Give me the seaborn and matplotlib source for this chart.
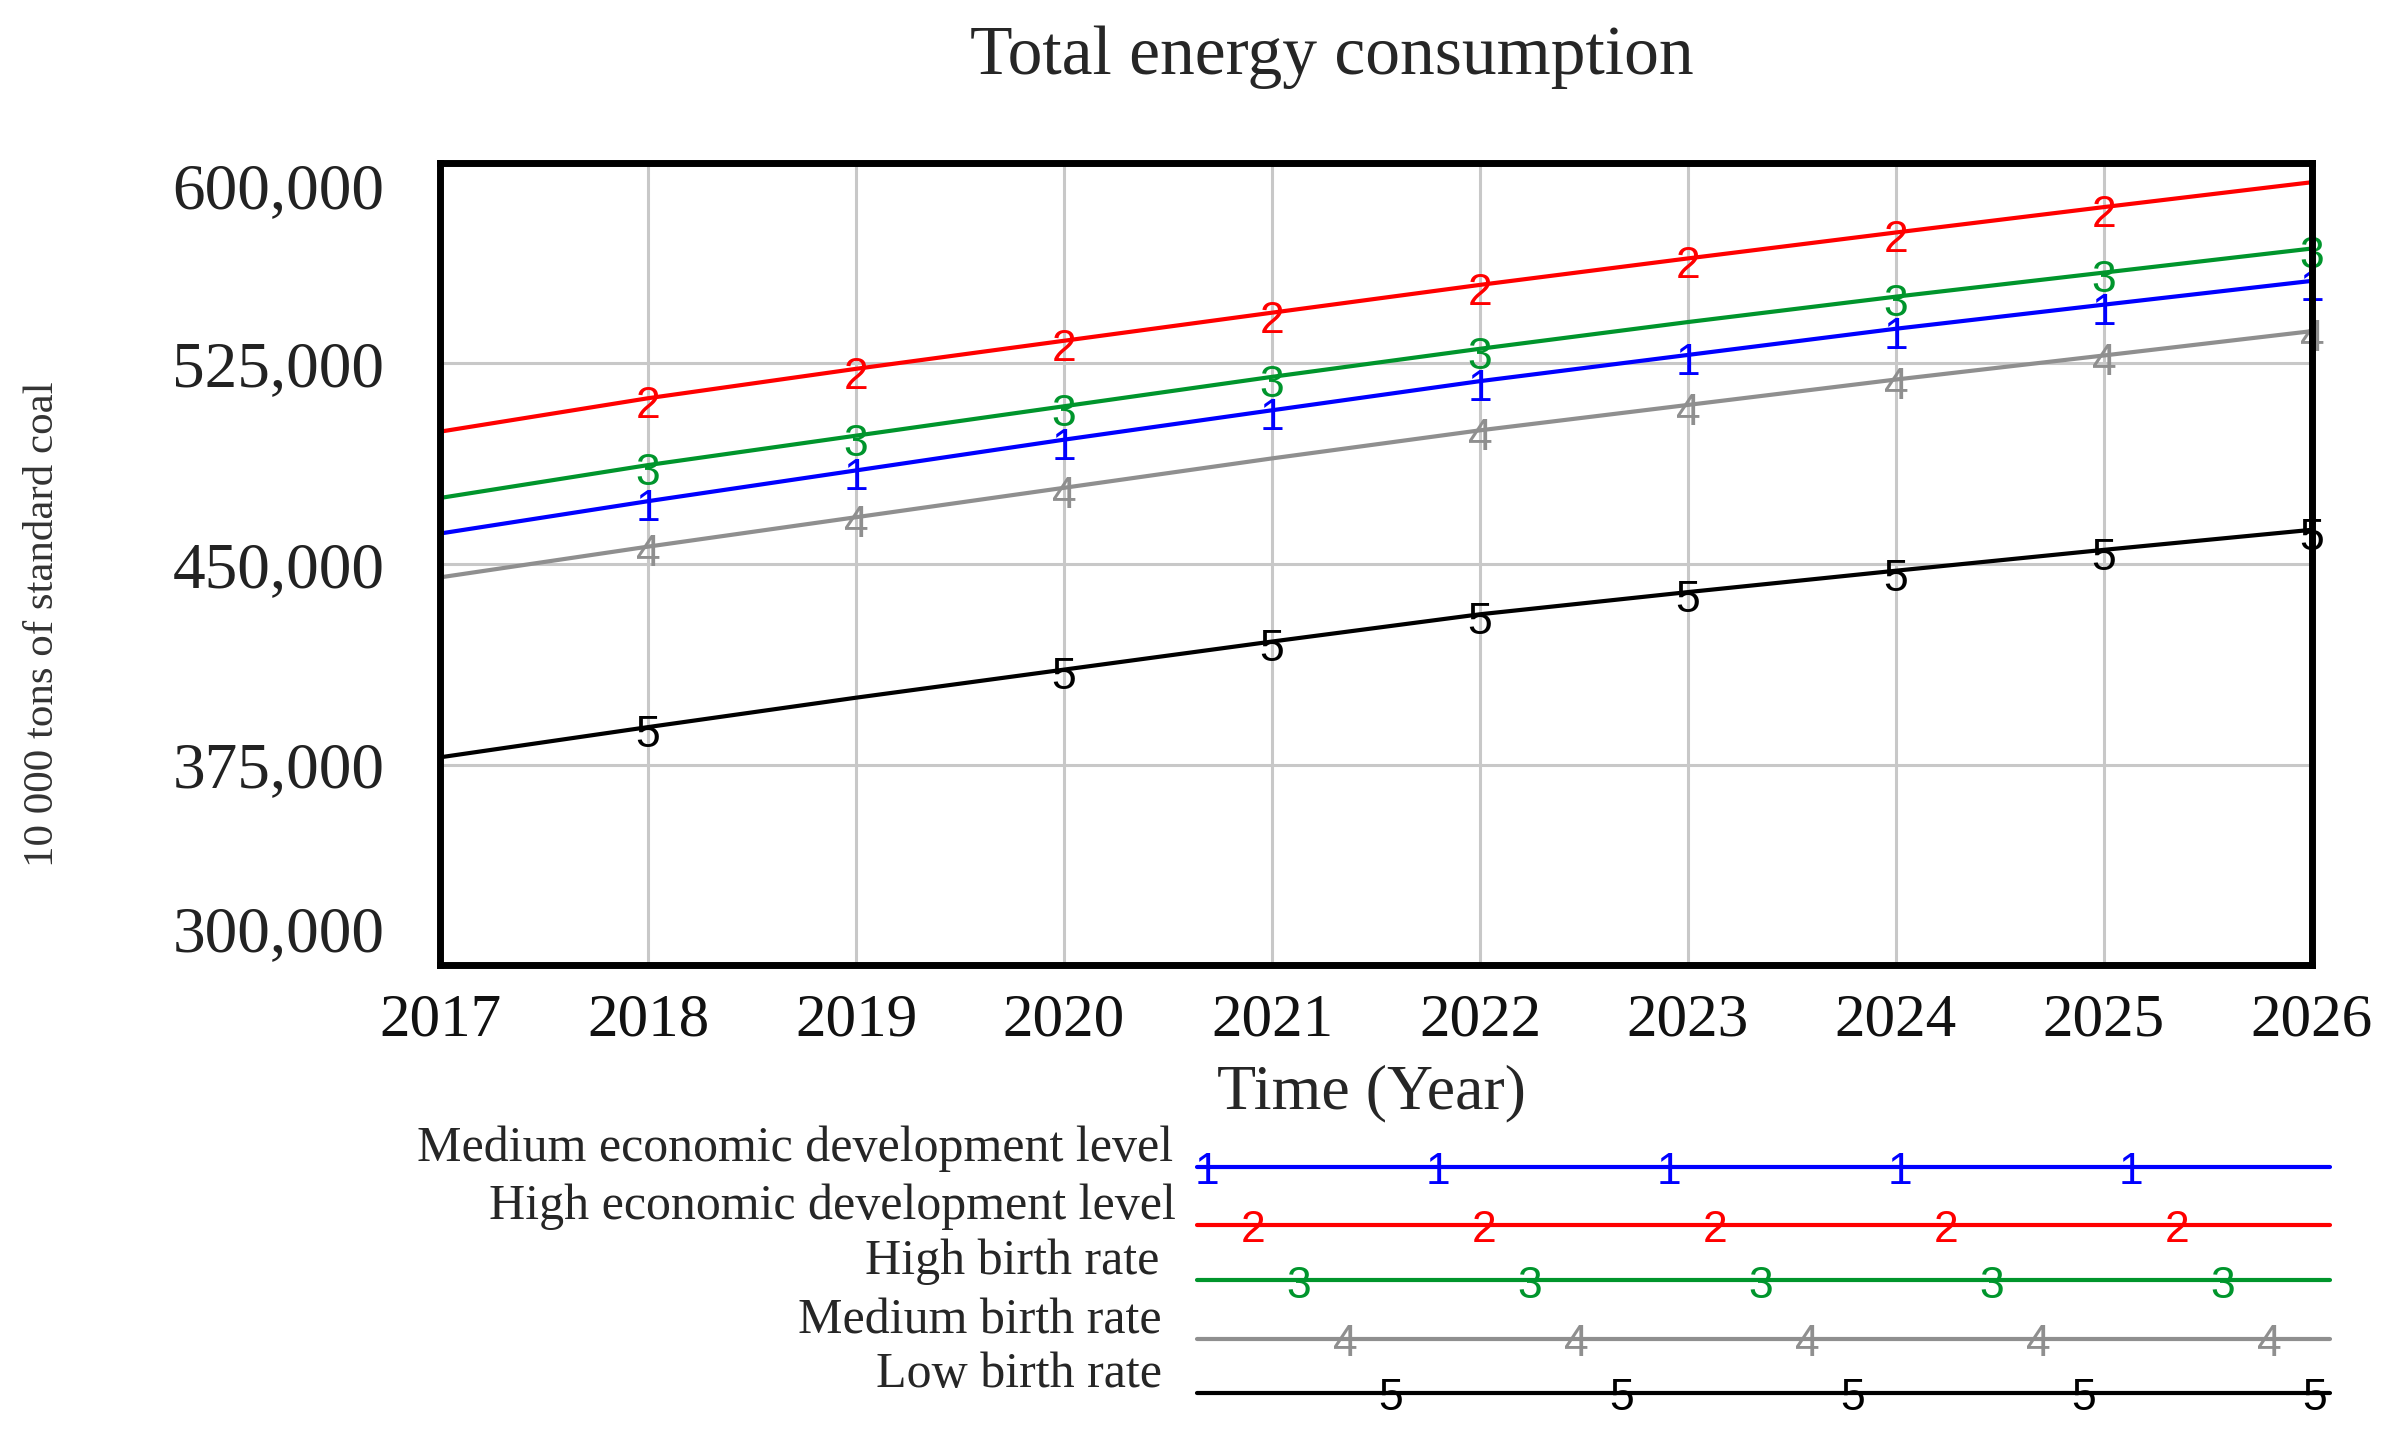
import numpy as np
import pandas as pd
import matplotlib
matplotlib.use("Agg")
import matplotlib.pyplot as plt
import seaborn as sns

# 年份
years = [2017, 2018, 2019, 2020, 2021, 2022, 2023, 2024, 2025, 2026]

# 各情景的能源消费总量（万吨标准煤）
medium_econ = [461400, 473500, 485000, 496500, 507500, 518400, 528200, 538000, 547000, 555900]
high_econ = [499500, 512000, 523000, 533500, 544000, 554400, 564300, 574000, 583500, 592800]
high_birth = [474700, 487000, 498000, 509000, 520000, 530500, 540500, 550000, 559000, 568000]
medium_birth = [445000, 456500, 467500, 478500, 489500, 500000, 509500, 519000, 528000, 537100]
low_birth = [377700, 389000, 400000, 410500, 421000, 431200, 439500, 447500, 455300, 462800]

scenario_names = [
    "Medium economic development level",
    "High economic development level",
    "High birth rate",
    "Medium birth rate",
    "Low birth rate",
]
scenario_ids = ["1", "2", "3", "4", "5"]
colors = ["#0000ff", "#ff0000", "#00952c", "#8f8f8f", "#000000"]

# 线上编号标记出现的年份
mark_years = [
    [2018, 2019, 2020, 2021, 2022, 2023, 2024, 2025, 2026],
    [2018, 2019, 2020, 2021, 2022, 2023, 2024, 2025],
    [2018, 2019, 2020, 2021, 2022, 2024, 2025, 2026],
    [2018, 2019, 2020, 2022, 2023, 2024, 2025, 2026],
    [2018, 2020, 2021, 2022, 2023, 2024, 2025, 2026],
]

y_ticks = [300000, 375000, 450000, 525000, 600000]

sns.set_style("whitegrid")
plt.rcParams['font.family'] = ['Liberation Serif', 'DejaVu Serif']

series = [medium_econ, high_econ, high_birth, medium_birth, low_birth]
df = pd.DataFrame({
    "year": years * len(series),
    "value": sum(series, []),
    "scenario": [n for n in scenario_names for _ in years],
})
palette = dict(zip(scenario_names, colors))

fig = plt.figure(figsize=(23.98, 14.46), dpi=100)
ax = fig.add_axes([0.1835, 0.3326, 0.7806, 0.5547])

sns.lineplot(data=df, x="year", y="value", hue="scenario", palette=palette,
             linewidth=3, legend=False, ax=ax, zorder=3)

# 编号标记
for vals, sid, col, marks in zip(series, scenario_ids, colors, mark_years):
    for yr in marks:
        v = vals[years.index(yr)]
        ax.annotate(sid, (yr, v), xytext=(0, -6), textcoords="offset points",
                    ha="center", va="center", fontsize=32, color=col,
                    family="Liberation Sans", annotation_clip=False, zorder=4)

ax.set_xlim(years[0], years[-1])
ax.set_ylim(y_ticks[0], y_ticks[-1])
ax.set_xticks(years)
ax.set_xticklabels([str(y) for y in years], fontsize=44, color="#111111")
ax.set_yticks(y_ticks)
ax.set_yticklabels([f"{v:,}" for v in y_ticks], fontsize=47, color="#222222")
ax.tick_params(axis="x", length=0, pad=20)
ax.tick_params(axis="y", length=0, pad=40)
labels = ax.get_yticklabels()
labels[0].set_va("bottom")
labels[-1].set_va("top")
ax.set_xlabel("")
ax.set_ylabel("")
ax.grid(True, color="#c8c8c8", linewidth=2.2)
for s in ax.spines.values():
    s.set_visible(True)
    s.set_color("black")
    s.set_linewidth(5)
    s.set_zorder(5)

fig.text(0.5555, 0.9606, "Total energy consumption", ha="center", va="center", fontsize=50)
fig.text(0.018, 0.5685, "10 000 tons of standard coal", rotation=90,
         ha="center", va="center", fontsize=31, color="#333333")
fig.text(0.572, 0.244, "Time (Year)", ha="center", va="center", fontsize=46)

# 底部图例
leg = fig.add_axes([0, 0, 1, 1])
leg.set_xlim(0, 2398)
leg.set_ylim(1446, 0)
leg.axis("off")
leg.patch.set_alpha(0)
row_y = [1167, 1225, 1280, 1339, 1393]
label_x = [1173, 1176, 1159, 1162, 1162]
for i, (name, sid, col) in enumerate(zip(scenario_names, scenario_ids, colors)):
    leg.plot([1197, 2330], [row_y[i], row_y[i]], color=col, linewidth=3)
    leg.text(label_x[i], row_y[i] - 18, name, ha="right", va="center", fontsize=36)
    for k in range(5):
        leg.text(1207 + 46 * i + 231 * k, row_y[i] + 6, sid, ha="center", va="center",
                 fontsize=32, color=col, family="Liberation Sans")

fig.savefig("out.png", dpi=100)
